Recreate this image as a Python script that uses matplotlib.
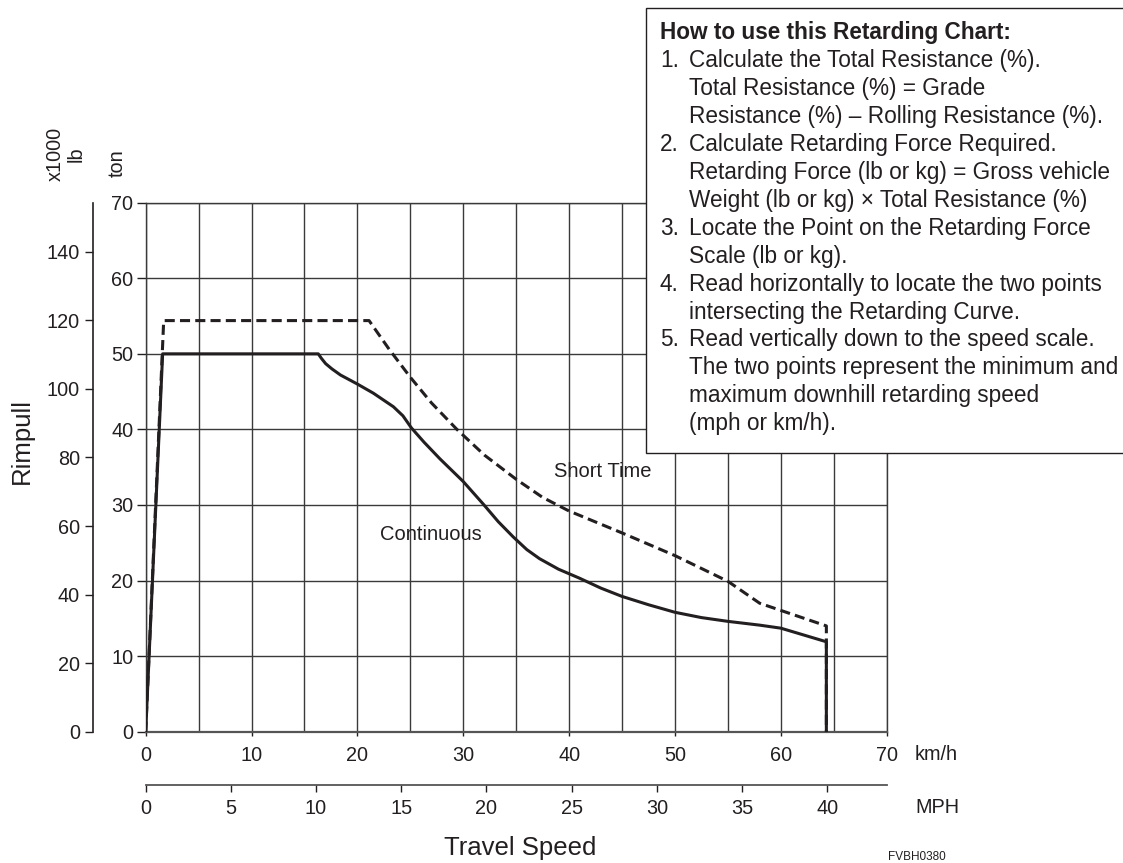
import numpy as np
import matplotlib
matplotlib.use("Agg")
import matplotlib.pyplot as plt
from matplotlib.patches import Rectangle

plt.rcParams['font.family'] = ['Liberation Sans', 'DejaVu Sans']

# chart data (km/h vs ton)
cont_kmh = [0, 1.6, 16.3, 16.6, 17.0, 17.6, 18.4, 20.0, 21.5, 23.4, 24.3, 25.1, 26.3,
            27.8, 30.0, 31.9, 33.3, 34.7, 36.0, 37.2, 39.0, 41.0, 43.0, 45.0, 47.5,
            50.0, 52.5, 55.0, 58.0, 60.0, 64.3, 64.3]
cont_ton = [0, 50, 50, 49.4, 48.7, 48.0, 47.2, 46.0, 44.8, 43.0, 41.8, 40.2, 38.3,
            36.1, 33.1, 30.1, 27.8, 25.8, 24.1, 22.9, 21.5, 20.3, 19.0, 17.9, 16.8,
            15.8, 15.1, 14.6, 14.1, 13.7, 11.9, 0]

short_kmh = [0, 1.7, 21.1, 23.0, 25.0, 27.0, 29.4, 32.0, 35.0, 37.5, 40.0, 45.0,
             50.0, 55.0, 58.0, 64.3, 64.3]
short_ton = [0, 54.4, 54.4, 50.6, 46.9, 43.5, 40.0, 36.6, 33.4, 31.0, 29.2, 26.3,
             23.3, 19.9, 17.0, 14.0, 0]

kmh_ticks = [0, 10, 20, 30, 40, 50, 60, 70]
mph_ticks = [0, 5, 10, 15, 20, 25, 30, 35, 40]
ton_ticks = [0, 10, 20, 30, 40, 50, 60, 70]
lb_ticks = [0, 20, 40, 60, 80, 100, 120, 140]

KMH_PER_MPH = 1.609344
KLB_PER_TON = 2.20462

how_to = [
    ("", "How to use this Retarding Chart:"),
    ("1.", "Calculate the Total Resistance (%)."),
    ("", "Total Resistance (%) = Grade"),
    ("", "Resistance (%) \u2013 Rolling Resistance (%)."),
    ("2.", "Calculate Retarding Force Required."),
    ("", "Retarding Force (lb or kg) = Gross vehicle"),
    ("", "Weight (lb or kg) \u00d7 Total Resistance (%)"),
    ("3.", "Locate the Point on the Retarding Force"),
    ("", "Scale (lb or kg)."),
    ("4.", "Read horizontally to locate the two points"),
    ("", "intersecting the Retarding Curve."),
    ("5.", "Read vertically down to the speed scale."),
    ("", "The two points represent the minimum and"),
    ("", "maximum downhill retarding speed"),
    ("", "(mph or km/h)."),
]

W, H = 1123, 863
ink = '#231f20'
gridc = '#3a3a3a'


def fx(px):
    return px / W


def fy(py):
    return 1 - py / H


fig = plt.figure(figsize=(W / 100, H / 100), dpi=100)
ax = fig.add_axes([fx(145.7), fy(731.7), 741 / W, 529 / H])

ax.set_xlim(0, 70)
ax.set_ylim(0, 70)
ax.set_xticks(kmh_ticks)
ax.set_xticks(np.arange(0, 71, 5), minor=True)
ax.set_yticks(ton_ticks)
ax.grid(which='both', color=gridc, linewidth=1.0)
ax.tick_params(axis='x', which='major', direction='out', length=3, pad=7.5,
               labelsize=14.3, colors=ink, width=1.0)
ax.tick_params(axis='x', which='minor', length=0)
ax.tick_params(axis='y', direction='out', length=6.2, pad=2.7,
               labelsize=14.3, colors=ink, width=1.0)
for s in ax.spines.values():
    s.set_color(gridc)
    s.set_linewidth(1.0)
ax.spines['bottom'].set_color('#555555')
ax.spines['bottom'].set_linewidth(1.6)

ax.plot(cont_kmh, cont_ton, color=ink, linewidth=2.2, zorder=4,
        solid_joinstyle='round')
ax.plot(short_kmh, short_ton, color=ink, linewidth=2.2, zorder=4,
        dashes=(3.3, 1.7))

# MPH scale below the km/h scale
sec_x = ax.secondary_xaxis(-53.3 / 529, functions=(lambda k: k / KMH_PER_MPH,
                                                   lambda m: m * KMH_PER_MPH))
sec_x.set_xticks(mph_ticks)
sec_x.tick_params(direction='out', length=5, pad=5.4, labelsize=14.3,
                  colors=ink, width=1.0)
sec_x.spines['bottom'].set_color('#555555')
sec_x.spines['bottom'].set_linewidth(1.3)

# x1000 lb scale left of the ton scale
sec_y = ax.secondary_yaxis(-53 / 741, functions=(lambda t: t * KLB_PER_TON,
                                                 lambda l: l / KLB_PER_TON))
sec_y.set_yticks(lb_ticks)
sec_y.tick_params(direction='out', length=5.5, pad=3.6, labelsize=14.3,
                  colors=ink, width=1.0)
sec_y.spines['left'].set_color(ink)
sec_y.spines['left'].set_linewidth(1.2)

# labels
fig.text(fx(22), fy(441), "Rimpull", rotation=90, ha='center', va='center',
         fontsize=18.5, color=ink)
fig.text(fx(55), fy(154), "x1000", rotation=90, ha='center', va='center',
         fontsize=14.3, color=ink)
fig.text(fx(76), fy(154), "lb", rotation=90, ha='center', va='center',
         fontsize=14.3, color=ink)
fig.text(fx(117.5), fy(163), "ton", rotation=90, ha='center', va='center',
         fontsize=14.3, color=ink)
fig.text(fx(915), fy(754), "km/h", ha='left', va='center', fontsize=14.3, color=ink)
fig.text(fx(915), fy(807), "MPH", ha='left', va='center', fontsize=14.3, color=ink)
fig.text(fx(520), fy(848), "Travel Speed", ha='center', va='center',
         fontsize=18.5, color=ink)
fig.text(fx(888), fy(857), "FVBH0380", ha='left', va='center', fontsize=8.5,
         color=ink)
fig.text(fx(380), fy(534), "Continuous", ha='left', va='center', fontsize=14.5,
         color=ink, zorder=5)
fig.text(fx(554), fy(471), "Short Time", ha='left', va='center', fontsize=14.5,
         color=ink, zorder=5)

# instruction box
fig.add_artist(Rectangle((fx(646), fy(453)), (1140 - 646) / W, (453 - 8) / H,
                         transform=fig.transFigure, facecolor='white',
                         edgecolor=ink, linewidth=1.0, zorder=2))
for i, (num, line) in enumerate(how_to):
    yy = fy(33 + i * 27.9)
    if i == 0:
        fig.text(fx(660), yy, line, ha='left', va='center', fontsize=16.3,
                 fontweight='bold', color=ink, zorder=3)
        continue
    if num:
        fig.text(fx(660), yy, num, ha='left', va='center', fontsize=16.3,
                 color=ink, zorder=3)
    fig.text(fx(689), yy, line, ha='left', va='center', fontsize=16.3,
             color=ink, zorder=3)

fig.savefig("out.png", dpi=100)
